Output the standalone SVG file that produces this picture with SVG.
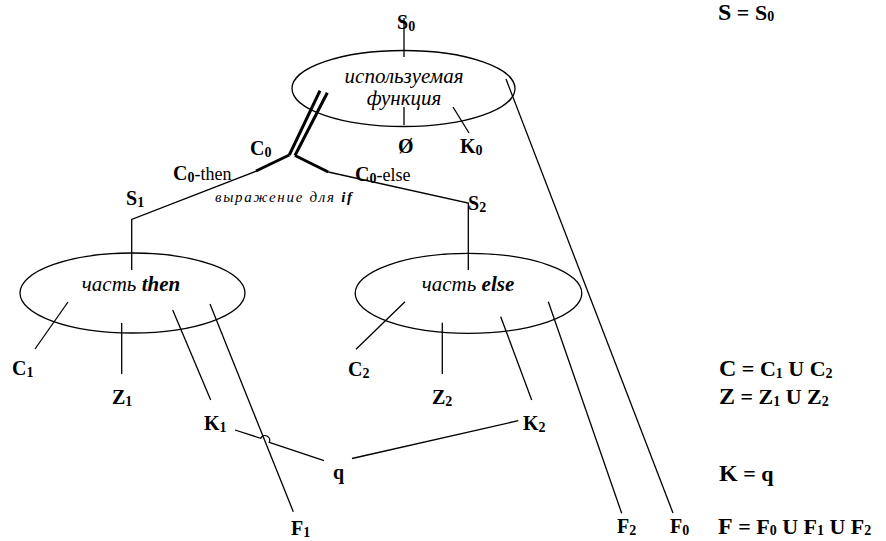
<svg xmlns="http://www.w3.org/2000/svg" width="886" height="541" viewBox="0 0 886 541">
<style>
  .ln { stroke: #000; stroke-width: 1.3; fill: none; }
  .thk { stroke: #000; stroke-width: 3; fill: none; stroke-linecap: butt; }
  .node { fill: #fff; stroke: #000; stroke-width: 1.3; }
  .nt { font-family: "Liberation Serif", "DejaVu Serif", serif; font-style: italic; font-size: 21px; fill: #000; }
  .lb { font-family: "Liberation Serif", "DejaVu Serif", serif; font-weight: bold; font-size: 20px; fill: #000; }
  .sub { font-size: 14px; }
  .eq { font-family: "Liberation Serif", "DejaVu Serif", serif; font-weight: bold; font-size: 22px; fill: #000; }
  .big { font-size: 24px; }
  .reg { font-family: "Liberation Serif", "DejaVu Serif", serif; font-weight: normal; font-size: 18px; fill: #000; }
  .cond { font-family: "Liberation Serif", "DejaVu Serif", serif; font-style: italic; font-size: 15px; fill: #000; }
</style>
<rect width="886" height="541" fill="#fff"/>

<g id="node-function">
  <ellipse class="node" cx="403.5" cy="88.5" rx="111.5" ry="38"/>
  <text class="nt" x="404" y="83" text-anchor="middle">используемая</text>
  <text class="nt" x="404" y="105" text-anchor="middle">функция</text>
</g>

<g id="node-then">
  <ellipse class="node" cx="132.5" cy="293" rx="112.5" ry="40"/>
  <text class="nt" x="131" y="291" text-anchor="middle">часть <tspan font-weight="bold">then</tspan></text>
</g>

<g id="node-else">
  <ellipse class="node" cx="468.5" cy="293.3" rx="113.3" ry="40"/>
  <text class="nt" x="468" y="291" text-anchor="middle">часть <tspan font-weight="bold">else</tspan></text>
</g>

<g id="connectors">
  <!-- top node -->
  <line class="ln" x1="404" y1="18" x2="404" y2="57"/>
  <line class="ln" x1="404" y1="107" x2="404" y2="125"/>
  <line class="ln" x1="453" y1="107" x2="469" y2="133"/>
  <line class="ln" x1="506" y1="79" x2="673" y2="513"/>
  <!-- condition double line -->
  <line class="thk" x1="320" y1="90.7" x2="289.3" y2="155"/>
  <line class="thk" x1="327.3" y1="92.7" x2="295" y2="155.5"/>
  <polyline class="thk" points="289.3,155 256,171"/>
  <polyline class="thk" points="295,155.5 328.3,172"/>
  <polyline class="ln" points="256.7,171 131.7,219.5 131.7,270"/>
  <polyline class="ln" points="328.3,172 468.3,203 468.3,270"/>
  <!-- then node -->
  <line class="ln" x1="68" y1="302" x2="35" y2="349"/>
  <line class="ln" x1="121.7" y1="323" x2="121.7" y2="374"/>
  <line class="ln" x1="172.7" y1="310" x2="210.7" y2="400"/>
  <line class="ln" x1="210" y1="304" x2="293.3" y2="511.7"/>
  <!-- else node -->
  <line class="ln" x1="405" y1="301.7" x2="356" y2="349.3"/>
  <line class="ln" x1="442.3" y1="322.7" x2="442.3" y2="374"/>
  <line class="ln" x1="500.7" y1="316.7" x2="531.7" y2="400"/>
  <line class="ln" x1="548.3" y1="301.7" x2="621.7" y2="513.3"/>
  <!-- K1 - q - K2 -->
  <path class="ln" d="M235,430 L260.7,438.3 A4.7,4.7 0 0 1 269.3,442.3 L324,460.7"/>
  <line class="ln" x1="352" y1="458.5" x2="518.3" y2="420.7"/>
</g>

<g id="labels">
  <g id="lbl-S0"><text class="lb" x="397" y="29">S<tspan class="sub" dy="2">0</tspan></text></g>
  <g id="lbl-empty"><text class="lb" x="398" y="153">Ø</text></g>
  <g id="lbl-K0"><text class="lb" x="460" y="153">K<tspan class="sub" dy="2">0</tspan></text></g>
  <g id="lbl-C0"><text class="lb" x="250" y="155">C<tspan class="sub" dy="2">0</tspan></text></g>
  <g id="lbl-C0-then"><text class="lb" x="173" y="180">C<tspan class="sub" dy="2">0</tspan><tspan class="reg" dy="-2">-then</tspan></text></g>
  <g id="lbl-C0-else"><text class="lb" x="355" y="181">C<tspan class="sub" dy="2">0</tspan><tspan class="reg" dy="-2">-else</tspan></text></g>
  <g id="lbl-cond"><text class="cond" x="215" y="202" textLength="137" lengthAdjust="spacing">выражение для <tspan font-weight="bold">if</tspan></text></g>
  <g id="lbl-S1"><text class="lb" x="126" y="205">S<tspan class="sub" dy="2">1</tspan></text></g>
  <g id="lbl-S2"><text class="lb" x="468" y="210">S<tspan class="sub" dy="2">2</tspan></text></g>
  <g id="lbl-C1"><text class="lb" x="12" y="375">C<tspan class="sub" dy="2">1</tspan></text></g>
  <g id="lbl-Z1"><text class="lb" x="112" y="404">Z<tspan class="sub" dy="2">1</tspan></text></g>
  <g id="lbl-K1"><text class="lb" x="204" y="430">K<tspan class="sub" dy="2">1</tspan></text></g>
  <g id="lbl-F1"><text class="lb" x="291" y="535">F<tspan class="sub" dy="2">1</tspan></text></g>
  <g id="lbl-C2"><text class="lb" x="348" y="376">C<tspan class="sub" dy="2">2</tspan></text></g>
  <g id="lbl-Z2"><text class="lb" x="432" y="404">Z<tspan class="sub" dy="2">2</tspan></text></g>
  <g id="lbl-K2"><text class="lb" x="523" y="430">K<tspan class="sub" dy="2">2</tspan></text></g>
  <g id="lbl-q"><text class="lb" x="333" y="479">q</text></g>
  <g id="lbl-F2"><text class="lb" x="617" y="533">F<tspan class="sub" dy="2">2</tspan></text></g>
  <g id="lbl-F0"><text class="lb" x="670" y="533">F<tspan class="sub" dy="2">0</tspan></text></g>
</g>

<g id="equations">
  <text class="eq" x="718" y="20"><tspan class="big">S</tspan> = S<tspan class="sub" dy="1">0</tspan></text>
  <text class="eq" x="719" y="376"><tspan class="big">C</tspan> = C<tspan class="sub" dy="2">1</tspan><tspan dy="-2"> U C</tspan><tspan class="sub" dy="2">2</tspan></text>
  <text class="eq" x="719" y="404"><tspan class="big">Z</tspan> = Z<tspan class="sub" dy="2">1</tspan><tspan dy="-2"> U Z</tspan><tspan class="sub" dy="2">2</tspan></text>
  <text class="eq" x="719" y="481"><tspan class="big">K</tspan> = q</text>
  <text class="eq" x="718" y="534"><tspan class="big">F</tspan> = F<tspan class="sub" dy="1">0</tspan><tspan dy="-1"> U F</tspan><tspan class="sub" dy="1">1</tspan><tspan dy="-1"> U F</tspan><tspan class="sub" dy="1">2</tspan></text>
</g>
</svg>
